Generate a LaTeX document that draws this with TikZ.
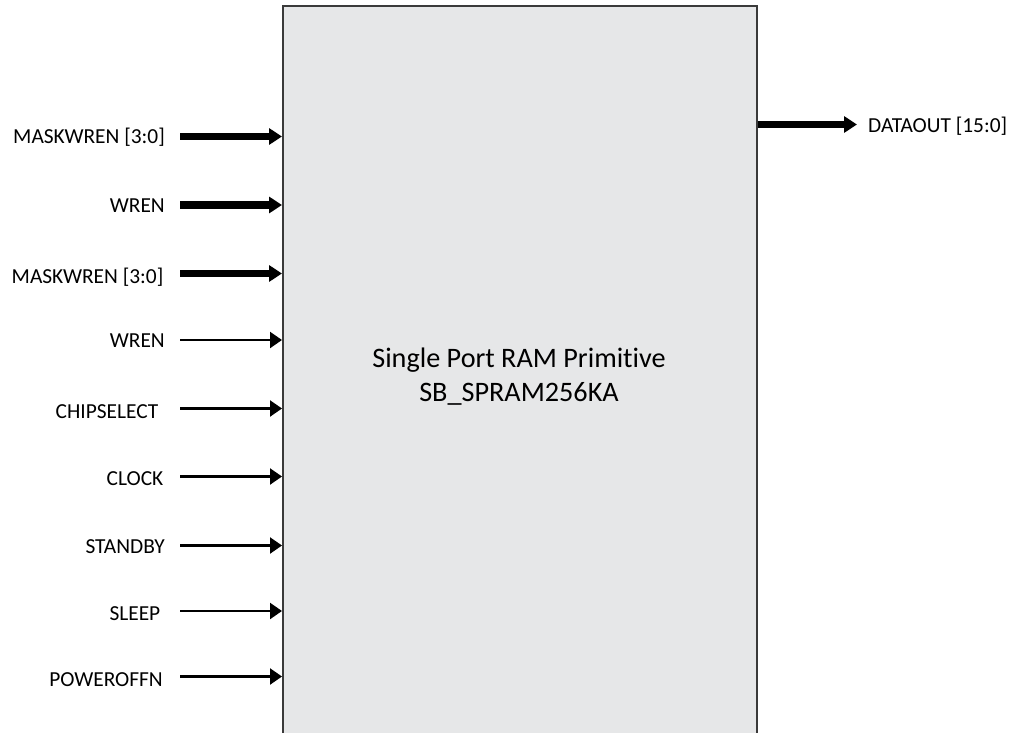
\documentclass[tikz,border=0pt]{standalone}
\usepackage{fontspec}
\setmainfont[Ligatures=NoCommon]{Carlito}
\usetikzlibrary{arrows.meta}
\definecolor{boxfill}{HTML}{E6E7E8}
\definecolor{boxline}{HTML}{3A3A3A}
\tikzset{
  sig/.style={font=\fontsize{21.4}{25}\selectfont, inner sep=0pt, anchor=base east},
  thinarrow/.style={line width=2.2pt, -{Triangle[length=12pt,width=16pt]}},
  thickarrow/.style={line width=7.5pt, -{Triangle[length=13pt,width=16pt]}},
}
\begin{document}
\begin{tikzpicture}[x=1pt,y=-1pt]
\useasboundingbox (0,0) rectangle (1020,733);
\clip (0,0) rectangle (1020,733);
\node[draw=boxline, fill=boxfill, line width=1.5pt, anchor=north west,
      minimum width=474pt, minimum height=760pt, inner sep=0pt] (box) at (282,5.5) {};
\node[font=\fontsize{28.2}{35}\selectfont, inner sep=0pt, anchor=base] (t1) at (519,367) {Single Port RAM Primitive};
\node[font=\fontsize{28.2}{35}\selectfont, inner sep=0pt, anchor=base] (t2) at (519,401) {SB\_SPRAM256KA};

% thick inputs
\node[sig] (l1) at (165,143) {MASKWREN [3:0]};
\coordinate (s1) at (180,136.5);
\draw[thickarrow] (s1) -- (box.west |- s1);
\node[sig] (l2) at (165,212) {WREN};
\coordinate (s2) at (180,205);
\draw[thickarrow] (s2) -- (box.west |- s2);
\node[sig] (l3) at (163.5,283) {MASKWREN [3:0]};
\coordinate (s3) at (180,273.5);
\draw[thickarrow] (s3) -- (box.west |- s3);

% thin inputs
\node[sig] (l4) at (165,347) {WREN};
\coordinate (s4) at (180,340);
\draw[thinarrow] (s4) -- (box.west |- s4);
\node[sig] (l5) at (158.5,418) {CHIPSELECT};
\coordinate (s5) at (180,408.5);
\draw[thinarrow] (s5) -- (box.west |- s5);
\node[sig] (l6) at (163.5,485) {CLOCK};
\coordinate (s6) at (180,476.5);
\draw[thinarrow] (s6) -- (box.west |- s6);
\node[sig] (l7) at (165,553) {STANDBY};
\coordinate (s7) at (180,545.5);
\draw[thinarrow] (s7) -- (box.west |- s7);
\node[sig] (l8) at (160.5,620) {SLEEP};
\coordinate (s8) at (180,611);
\draw[thinarrow] (s8) -- (box.west |- s8);
\node[sig] (l9) at (163,686) {POWEROFFN};
\coordinate (s9) at (180,676.5);
\draw[thinarrow] (s9) -- (box.west |- s9);

% output
\coordinate (o1) at (857,124.5);
\draw[thickarrow] (box.east |- o1) -- (o1);
\node[sig, anchor=base west] (lo) at (868,132) {DATAOUT [15:0]};
\end{tikzpicture}
\end{document}
